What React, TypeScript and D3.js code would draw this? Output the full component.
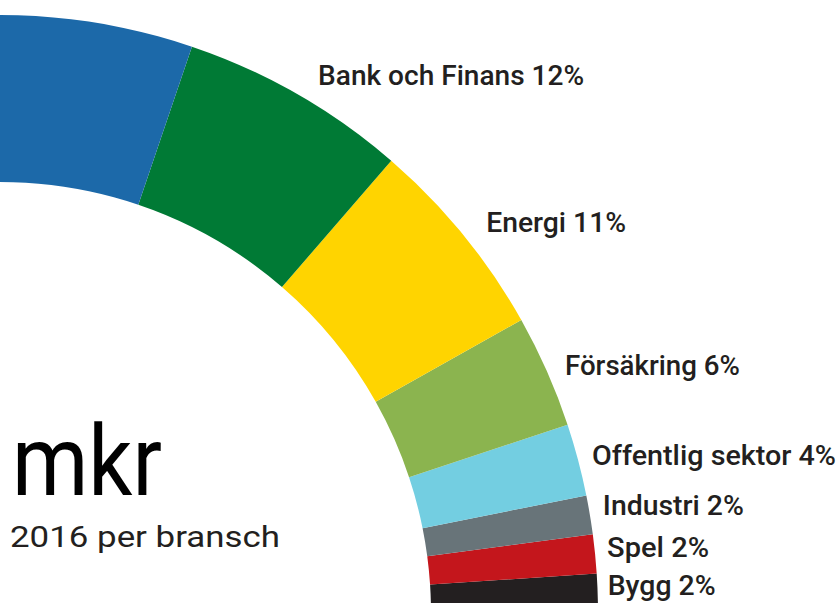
import React from 'react';
import * as d3 from 'd3';

// Data
const sectors = ['Bygg', 'Spel', 'Industri', 'Offentlig sektor', 'Försäkring', 'Energi', 'Bank och Finans', 'Övrigt'];
const shares = [2.1, 2.1, 2.1, 3.9, 6.1, 11.0, 12.3, 60.4];
const labelPct: (number | null)[] = [2, 2, 2, 4, 6, 11, 12, null];
const unitText = 'mkr';
const subtitle = '2016 per bransch';

// Styles / layout
const colors = ['#231f20', '#c4161c', '#687479', '#73cee1', '#8bb44f', '#ffd400', '#007a35', '#1c69a9'];
const W = 840;
const H = 603;
const cx = 0;
const cy = 613;
const rOuter = 598;
const rInner = 431;
const labelDx = [10, 12, 13, 14, 18, 23, 21, 0];
const labelDy = [2, 3, 0, 5, 4, -3, -9, 0];
const labelWidths = [108, 102, 141, 244, 175, 140, 266, 0];
const FONT = 'Roboto, "Noto Sans", "Liberation Sans", sans-serif';

export default function App() {
  const pie = d3
    .pie<number>()
    .sort(null)
    .value((d) => d)
    .startAngle(Math.PI / 2)
    .endAngle(-Math.PI / 2);
  const arcs = pie(shares);
  const arc = d3.arc<d3.PieArcDatum<number>>().innerRadius(rInner).outerRadius(rOuter);

  return (
    <svg
      width={W}
      height={H}
      viewBox={`0 0 ${W} ${H}`}
      style={{ position: 'fixed', left: 0, top: 0, background: '#fff' }}
    >
      <rect x={0} y={0} width={W} height={H} fill="#fff" />
      <g transform={`translate(${cx},${cy})`}>
        {arcs.map((a, i) => (
          <path key={sectors[i]} d={arc(a) || ''} fill={colors[i]} />
        ))}
        {arcs.map((a, i) => {
          if (labelPct[i] == null) return null;
          const mid = (a.startAngle + a.endAngle) / 2;
          const x = rOuter * Math.sin(mid) + labelDx[i];
          const y = -rOuter * Math.cos(mid) + labelDy[i];
          return (
            <text
              key={'l' + i}
              x={x}
              y={y}
              fontFamily={FONT}
              fontSize={28}
              fontWeight={500}
              fill="#231f20"
              textLength={labelWidths[i]}
              lengthAdjust="spacingAndGlyphs"
            >
              {`${sectors[i]} ${labelPct[i]}%`}
            </text>
          );
        })}
      </g>
      <text
        x={12}
        y={495}
        fontFamily={FONT}
        fontSize={98}
        fill="#000"
        textLength={150}
        lengthAdjust="spacingAndGlyphs"
      >
        {unitText}
      </text>
      <text
        x={10}
        y={547}
        fontFamily={FONT}
        fontSize={30}
        fill="#231f20"
        textLength={270}
        lengthAdjust="spacingAndGlyphs"
      >
        {subtitle}
      </text>
    </svg>
  );
}
